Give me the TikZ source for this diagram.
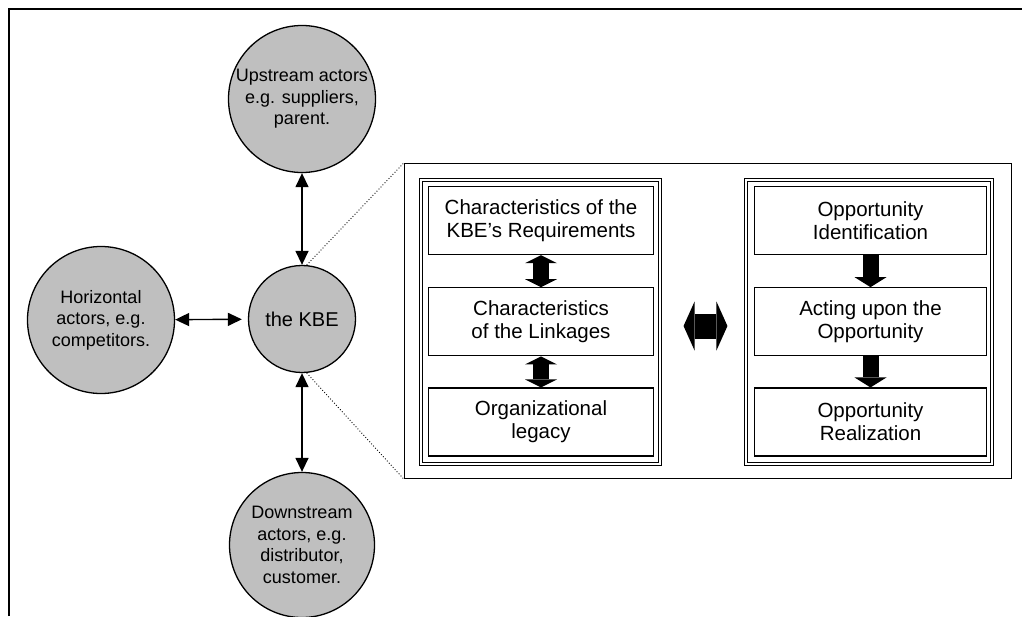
\documentclass[tikz,border=0pt]{standalone}
\usepackage{fontspec}
\setmainfont{Liberation Sans}
\usetikzlibrary{arrows.meta,positioning}

\begin{document}
\begin{tikzpicture}[x=1pt,y=-1pt,
        actor/.style={circle,draw,line width=1.3pt,fill=gray!50,align=center,inner sep=0pt,font=\fontsize{18}{21.5}\selectfont},
        stage/.style={rectangle,draw,line width=1.3pt,align=center,minimum height=68pt,font=\fontsize{20.5}{23}\selectfont},
        panel/.style={rectangle,draw,double,line width=1.1pt,double distance=1.6pt,minimum height=284pt},
        link/.style={line width=1.4pt,{Triangle[length=14pt,width=13pt]}-{Triangle[length=14pt,width=13pt]}},
        fatlink/.style={line width=16pt,{Triangle[length=8pt,width=32pt,line width=0pt]}-{Triangle[length=8pt,width=32pt,line width=0pt]}},
        fatstep/.style={line width=16pt,-{Triangle[length=10pt,width=32pt,line width=0pt]}},
        midlink/.style={line width=25pt,{Triangle[length=11pt,width=49pt,line width=0pt]}-{Triangle[length=11pt,width=49pt,line width=0pt]}},
        zoomline/.style={dotted,line width=0.9pt}
      ]
        \useasboundingbox (0,0) rectangle (1022,616);
        \draw[line width=2pt] (8.5,616) -- (8.5,9) -- (1022,9);

        \node[actor,minimum size=147pt] (up) at (302,99) {Upstream actors\\e.g. suppliers,\\parent.};
        \node[actor,minimum size=107pt,font=\fontsize{20}{23}\selectfont] (kbe) at (302,319) {the KBE};
        \node[actor,minimum size=147pt] (hor) at (101,320) {Horizontal\\actors, e.g.\\competitors.};
        \node[actor,minimum size=145pt] (down) at (302,545) {Downstream\\actors, e.g.\\distributor,\\customer.};

        \node[draw,line width=1.3pt,minimum width=607pt,minimum height=315pt] (kbebox) at (708,321) {};
        \node[panel,minimum width=239pt] (req) at (540.5,322) {};
        \node[panel,minimum width=246pt] (opp) at (869,322) {};

        \node[stage,minimum width=225pt] (chr) at (541,220.5) {Characteristics of the\\KBE’s Requirements};
        \node[stage,minimum width=225pt,below=32pt of chr] (lnk) {Characteristics\\of the Linkages};
        \node[stage,minimum width=225pt,below=31pt of lnk] (leg) {Organizational\\legacy};
        \node[stage,minimum width=232pt] (ident) at (870.5,220.5) {Opportunity\\Identification};
        \node[stage,minimum width=232pt,below=32pt of ident] (act) {Acting upon the\\Opportunity};
        \node[stage,minimum width=232pt,below=31pt of act] (real) {Opportunity\\Realization};

        \draw[link] (up) -- (kbe);
        \draw[link,shorten >=6pt] (hor) -- (kbe);
        \draw[link] (kbe) -- (down);
        \draw[zoomline] (kbe.85) -- (kbebox.north west);
        \draw[zoomline] (kbe.-85) -- (kbebox.south west);

        \draw[fatlink] (chr) -- (lnk);
        \draw[fatlink] (lnk) -- (leg);
        \draw[fatstep] (ident) -- (act);
        \draw[fatstep] (act) -- (real);
        \draw[midlink,shorten <=23pt,shorten >=18pt] ([yshift=-4pt]req.east) -- ([yshift=-4pt]opp.west);
      \end{tikzpicture}
\end{document}
